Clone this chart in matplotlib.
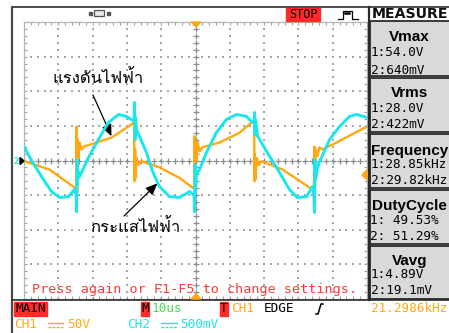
import matplotlib
matplotlib.use("Agg")
import numpy as np
import matplotlib.pyplot as plt
from matplotlib import font_manager
from matplotlib.patches import Rectangle, Polygon

# CH1: voltage (V), CH2: current probe (mV), time in microseconds
ch1_t = [-50, -42.6, -35.3, -34.8, -34.7, -34.5, -34.4, -34.1, -33.8, -33.2, -32.6,
         -24.5, -18.4, -17.9, -17.8, -17.6, -17.5, -17.2, -16.6, -15.7, -10.5, -4.7,
         -0.9, -0.4, -0.3, -0.1, 0.0, 0.3, 0.6, 1.2, 2.0, 7.0, 12.8, 16.6, 17.1, 17.2,
         17.3, 17.5, 17.8, 18.4, 19.2, 25.4, 33.2, 34.5, 34.7, 34.8, 35.0, 35.6, 36.1,
         37.0, 41.1, 50.0]
ch1_v = [-1, -13, -39, -40, 49, -46, 30, 4, 26, 16, 20,
         33, 53, 56, -30, 16, -25, 4, -6, -1, -10, -25,
         -39, -40, 35, -42, 23, 1, 27, 13, 19, 26, 40, 56, 58, -30,
         9, -27, 4, -7, -1, -13, -39, -40, 20, -42, 16, 6, 19,
         16, 26, 49]

ch2_t = [-50, -47.8, -44.9, -42, -39.6, -37, -35.3, -34.8, -34.7, -34.5, -34.4,
         -34.1, -33.8, -31.2, -28.3, -25.4, -22.4, -20.1, -18.7, -17.9, -17.8, -17.6,
         -17.5, -17.2, -14.3, -12.5, -10.5, -7.6, -4.7, -1.7, -0.4, -0.3, -0.1, 0.0,
         0.3, 1.2, 3.2, 6.1, 9.0, 12.0, 14.9, 16.6, 17.1, 17.2, 17.3, 17.5, 18.1, 18.7,
         21.6, 24.5, 27.4, 29.7, 32.4, 34.1, 34.5, 34.7, 34.8, 35.0, 35.6, 36.1, 39.1,
         42.0, 44.9, 46.9, 50.0]
ch2_mv = [202, 0, -231, -448, -535, -520, -419, -491, -737, 14, -347,
          -159, -231, 43, 303, 549, 665, 636, 592, 578, 838, 303,
          621, 448, 116, -159, -376, -520, -535, -448, -506, -737, -58, -419,
          -202, -130, 116, 405, 592, 665, 636, 549, 563, 694, 376, 592, 347, 303,
          58, -173, -419, -535, -520, -376, -491, -751, 14, -275, -101, -29, 303,
          491, 636, 665, 621]

time_per_div = 10     # us/div
ch1_per_div = 50      # V/div
ch2_per_div = 500     # mV/div
trig_level = -20      # V

measure_names = ["Vmax", "Vrms", "Frequency", "DutyCycle", "Vavg"]
measure_ch1 = ["1:54.0V", "1:28.0V", "1:28.85kHz", "1: 49.53%", "1:4.89V"]
measure_ch2 = ["2:640mV", "2:422mV", "2:29.82kHz", "2: 51.29%", "2:19.1mV"]

label_voltage = "แรงดันไฟฟ้า"
label_current = "กระแสไฟฟ้า"

ORANGE = "#ffa812"
CYAN = "#19e6ee"
RED = "#ff2b2b"
MONO = "DejaVu Sans Mono"


def thai_family():
    from fontTools.ttLib import TTFont
    for entry in font_manager.fontManager.ttflist:
        try:
            cmap = TTFont(entry.fname, fontNumber=0, lazy=True).getBestCmap()
        except Exception:
            continue
        if cmap and 0x0E41 in cmap and 0x0E14 in cmap and 0x0E1F in cmap:
            return entry.name
    return "DejaVu Sans"


W, H = 449, 333
fig = plt.figure(figsize=(W / 100, H / 100), dpi=100)
fig.patch.set_facecolor("white")

# ---- scope screen ----
scr = fig.add_axes([24 / W, 1 - 299 / H, 343 / W, 277 / H])
scr.set_xlim(-5 * time_per_div, 5 * time_per_div)
scr.set_ylim(-4 * ch1_per_div, 4 * ch1_per_div)
scr2 = scr.twinx()
scr2.set_ylim(-4 * ch2_per_div, 4 * ch2_per_div)

minor_x = np.arange(-25, 26) * time_per_div / 5
minor_y = np.arange(-20, 21) * ch1_per_div / 5
div_x = np.arange(-4, 5) * time_per_div
div_y = np.arange(-3, 4) * ch1_per_div

for a in (scr, scr2):
    for sp in a.spines.values():
        sp.set_color("#b4b4b4")
        sp.set_linewidth(0.8)
scr.set_xticks(minor_x)
scr.set_yticks(minor_y)
scr.tick_params(which="both", direction="in", length=2.5, width=0.8, color="#a0a0a0",
                labelbottom=False, labelleft=False, top=True, right=False)
scr2.set_yticks(minor_y / ch1_per_div * ch2_per_div)
scr2.tick_params(direction="in", length=2.5, width=0.8, color="#a0a0a0", labelright=False)

# dotted division lines
gx, gy = np.meshgrid(div_x[div_x != 0], minor_y)
scr.scatter(gx.ravel(), gy.ravel(), s=1.3, marker="s", color="#a6a6a6", linewidths=0, zorder=1)
gx, gy = np.meshgrid(minor_x, div_y[div_y != 0])
scr.scatter(gx.ravel(), gy.ravel(), s=1.3, marker="s", color="#a6a6a6", linewidths=0, zorder=1)
# center cross-hair
scr.scatter(np.zeros_like(minor_y), minor_y, s=14, marker="+", color="#8c8c8c", linewidths=0.9, zorder=1)
scr.scatter(minor_x, np.zeros_like(minor_x), s=14, marker="+", color="#8c8c8c", linewidths=0.9, zorder=1)

scr.plot(ch1_t, ch1_v, color=ORANGE, lw=1.7, solid_joinstyle="round", zorder=3)
scr2.plot(ch2_t, ch2_mv, color=CYAN, lw=2.1, solid_joinstyle="round", zorder=3)

# ---- overlay in pixel units ----
ov = fig.add_axes([0, 0, 1, 1])
ov.set_xlim(0, W)
ov.set_ylim(H, 0)
ov.axis("off")

dark = "#4a4a4a"
ov.plot([12, 12], [7, H], color=dark, lw=1.6)
ov.plot([12, W], [7, 7], color=dark, lw=1.4)
ov.plot([12, W], [300, 300], color="#2a2a2a", lw=1.2)
ov.plot([369, 369], [7, 300], color="#2a2a2a", lw=1.6)

# trigger markers
ov.add_patch(Polygon([[191, 22], [201, 22], [196, 27]], closed=True, color=ORANGE, zorder=5))
ov.add_patch(Polygon([[191, 299], [201, 299], [196, 294]], closed=True, color=ORANGE, zorder=5))
trig_y = 161 - trig_level / ch1_per_div * 34.6
ov.add_patch(Polygon([[367, trig_y - 5], [367, trig_y + 5], [362, trig_y]], closed=True,
                     color=ORANGE, zorder=5))
# channel ground marker
ov.text(16, 161, "2", color=CYAN, fontsize=6.5, family=MONO, ha="center", va="center",
        fontweight="bold")
ov.add_patch(Polygon([[20, 157.5], [20, 164.5], [24, 161]], closed=True, color="black", zorder=5))

# top bar
ov.add_patch(Rectangle((286, 8), 34, 12.5, color=RED))
ov.text(303, 14.5, "STOP", family=MONO, fontsize=8.6, ha="center", va="center", color="black")
ov.plot([338, 343, 343, 352, 352, 358], [19, 19, 11, 11, 19, 19], color="black", lw=0.9)
ov.plot([345, 347, 349], [12.5, 12.5, 12.5], ls="none", marker="s", ms=0.9, color="black")
ov.add_patch(Rectangle((94, 10), 10, 6, fc="#e8e8e8", ec="#555555", lw=0.9))
ov.add_patch(Rectangle((88.5, 11.5), 3, 3, color="#555555"))
ov.add_patch(Rectangle((106.5, 11.5), 3, 3, color="#555555"))
ov.text(372, 14, "MEASURE", fontsize=10.2, fontweight="bold", family="DejaVu Sans",
        ha="left", va="center", color="#111111")

# measure panel
box_tops = [21, 78, 134, 190, 246]
box_bots = [76, 132, 188, 244, 299]
title_y = [37, 93, 151, 206, 261]
v1_y = [53, 109, 165, 221, 275]
v2_y = [70, 124, 181, 237, 290]
for i, name in enumerate(measure_names):
    ov.add_patch(Rectangle((370, box_tops[i]), 80, box_bots[i] - box_tops[i],
                           fc="#d9d9d9", ec="#2a2a2a", lw=1.3))
    ov.text(409.5, title_y[i], name, family="Liberation Sans", fontweight="bold",
            fontsize=11, ha="center", va="center", color="black")
    ov.text(370.5, v1_y[i], measure_ch1[i], family=MONO, fontsize=9.2,
            ha="left", va="center", color="black")
    ov.text(370.5, v2_y[i], measure_ch2[i], family=MONO, fontsize=9.2,
            ha="left", va="center", color="black")

# hint line
ov.text(32, 290, "Press again or F1-F5 to change settings.", family=MONO, fontsize=9.7,
        ha="left", va="center", color="#ff3a3a")

# status bar
ov.add_patch(Rectangle((14, 302), 33, 14, color=RED))
ov.text(15, 309, "MAIN", family=MONO, fontsize=9.2, ha="left", va="center", color="black")
ov.add_patch(Rectangle((141, 302), 8, 14, color=RED))
ov.text(145, 309, "M", family=MONO, fontsize=9.2, ha="center", va="center", color="black")
ov.text(152, 309, "10us", family=MONO, fontsize=9.2, ha="left", va="center", color="#44dd55")
ov.add_patch(Rectangle((220, 302), 8, 14, color=RED))
ov.text(224, 309, "T", family=MONO, fontsize=9.2, ha="center", va="center", color="black")
ov.text(231, 309, "CH1", family=MONO, fontsize=9.2, ha="left", va="center", color=ORANGE)
ov.text(264, 309, "EDGE", family=MONO, fontsize=9.2, ha="left", va="center", color="black")
ov.plot([316, 318, 321, 323], [314, 314, 304, 304], color="black", lw=1.1)
ov.text(371, 309, "21.2986kHz", family=MONO, fontsize=9.2, ha="left", va="center", color=ORANGE)

ov.text(14, 325, "CH1", family=MONO, fontsize=9.2, ha="left", va="center", color=ORANGE)
ov.plot([48, 63], [322.5, 322.5], color=ORANGE, lw=1.0)
ov.plot([48, 63], [326.5, 326.5], color=ORANGE, lw=1.0, dashes=(2, 1))
ov.text(67, 325, "50V", family=MONO, fontsize=9.2, ha="left", va="center", color=ORANGE)
ov.text(127, 325, "CH2", family=MONO, fontsize=9.2, ha="left", va="center", color=CYAN)
ov.plot([161, 177], [322.5, 322.5], color=CYAN, lw=1.0)
ov.plot([161, 177], [326.5, 326.5], color=CYAN, lw=1.0, dashes=(2, 1))
ov.text(180, 325, "500mV", family=MONO, fontsize=9.2, ha="left", va="center", color=CYAN)

# Thai labels with arrows onto the traces
thai = thai_family()
ov.text(53, 79, label_voltage, family=thai, fontsize=12, ha="left", va="center", color="black")
ov.text(90, 228, label_current, family=thai, fontsize=12, ha="left", va="center", color="black")
arrow = dict(arrowstyle="-|>,head_length=0.7,head_width=0.3", color="black", lw=0.9,
             shrinkA=0, shrinkB=0)
scr.annotate("", xy=(-24.5, 35), xytext=(93, 95), textcoords=ov.transData, arrowprops=arrow,
             zorder=6)
scr2.annotate("", xy=(-11.1, -330), xytext=(124, 216), textcoords=ov.transData,
              arrowprops=arrow, zorder=6)

fig.savefig("out.png", dpi=100)
